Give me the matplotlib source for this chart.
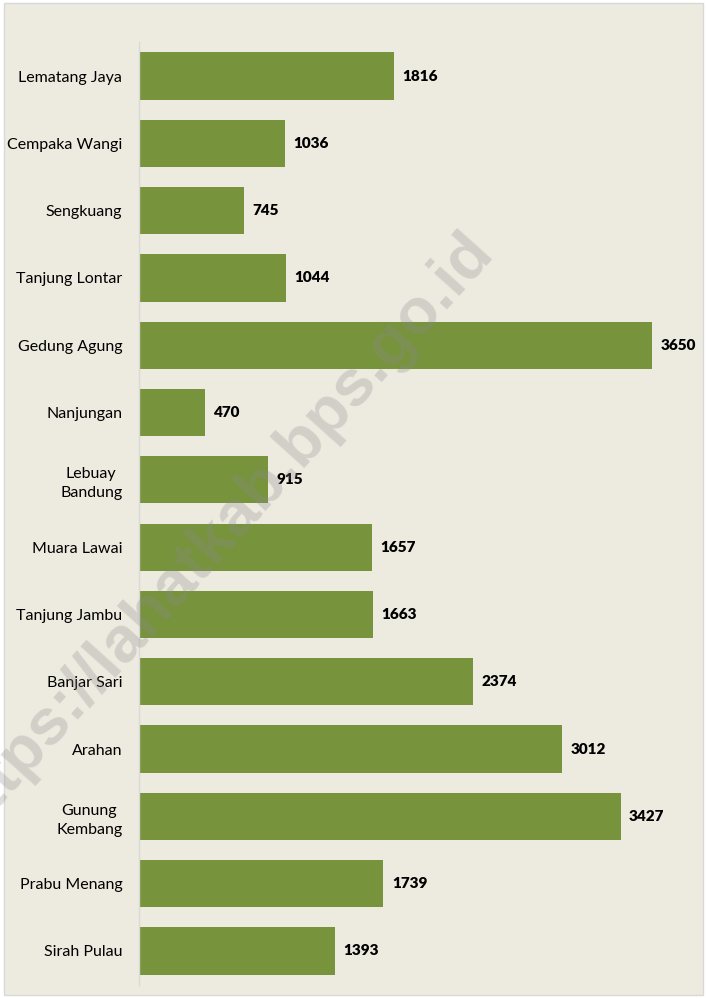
import matplotlib.pyplot as plt
from matplotlib.patches import Rectangle

# data
desa = ['Lematang Jaya', 'Cempaka Wangi', 'Sengkuang', 'Tanjung Lontar',
        'Gedung Agung', 'Nanjungan', 'Lebuay\nBandung', 'Muara Lawai',
        'Tanjung Jambu', 'Banjar Sari', 'Arahan', 'Gunung\nKembang',
        'Prabu Menang', 'Sirah Pulau']
jumlah = [1816, 1036, 745, 1044, 3650, 470, 915, 1657, 1663, 2374, 3012,
          3427, 1739, 1393]

bg = '#EDEAE0'
bar_col = '#77933C'
plt.rcParams['font.family'] = ['Lato', 'DejaVu Sans']

fig = plt.figure(figsize=(7.06, 9.98), dpi=100, facecolor='white')
# bingkai
fig.patches.append(Rectangle((4 / 706, 3 / 998), 699 / 706, 992 / 998,
                             transform=fig.transFigure, facecolor=bg,
                             edgecolor='#D9D9D9', linewidth=1, zorder=-5))

ax = fig.add_axes([139 / 706, 13.4 / 998, 551 / 706, 942.2 / 998])
ax.set_facecolor('none')
ax.set_zorder(2)

y = list(range(len(desa)))
bars = ax.barh(y, jumlah, height=0.7, color=bar_col, zorder=2)
ax.set_ylim(len(desa) - 0.5, -0.5)
ax.set_xlim(0, 551 / 0.14055)

for b, v in zip(bars, jumlah):
    ax.text(b.get_width() + 60, b.get_y() + b.get_height() / 2, str(v),
            va='center', ha='left', fontsize=11, fontweight='heavy',
            color='black', zorder=3)

ax.set_yticks(y)
ax.set_yticklabels(desa, fontsize=11.5, multialignment='center',
                   linespacing=1.45)
ax.tick_params(axis='y', length=0, pad=12)
ax.set_xticks([])
for s in ['top', 'right', 'bottom']:
    ax.spines[s].set_visible(False)
ax.spines['left'].set_color('#D9D9D9')
ax.spines['left'].set_linewidth(1)

# watermark
fig.text(218 / 706, 1 - 534 / 998, 'https://lahatkab.bps.go.id',
         rotation=48, fontsize=47, fontweight='bold', color='#8A8A8A',
         family='Liberation Sans', alpha=0.28, ha='center', va='center',
         zorder=10)

fig.savefig('out.png', dpi=100, facecolor='white')
